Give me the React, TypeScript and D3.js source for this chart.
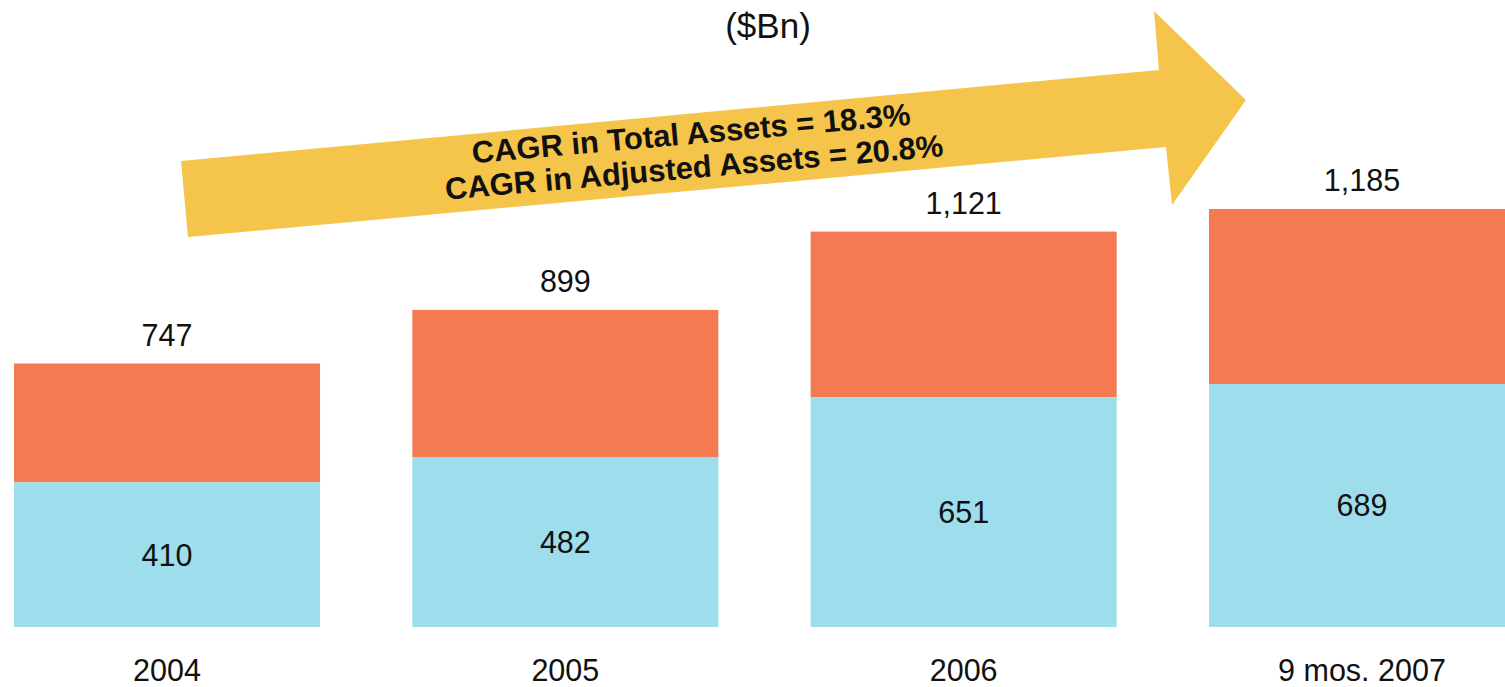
import { useEffect, useRef } from "react";
import * as d3 from "d3";

const categories = ["2004", "2005", "2006", "9 mos. 2007"];
const adjustedAssets = [410, 482, 651, 689];
const totalAssets = [747, 899, 1121, 1185];
const unitLabel = "($Bn)";
const cagrLines = ["CAGR in Total Assets = 18.3%", "CAGR in Adjusted Assets = 20.8%"];

const W = 1505;
const H = 687;

export default function App() {
    const ref = useRef<SVGSVGElement | null>(null);

    useEffect(() => {
        const svg = d3.select(ref.current);
        svg.selectAll("*").remove();

        const font = "'Liberation Sans', Arial, sans-serif";

        const x = d3.scaleBand<string>()
            .domain(categories)
            .range([14, 1515])
            .paddingInner(0.2317)
            .paddingOuter(0);

        const y = d3.scaleLinear()
            .domain([0, 1185])
            .range([627, 209]);

        // big yellow arrow sits behind the bars
        const arrow: [number, number][] = [
            [181, 161], [1159, 70], [1154, 11], [1246, 100],
            [1172, 205], [1166, 147], [188, 237]
        ];
        svg.append("path")
            .attr("d", d3.line()(arrow) + "Z")
            .attr("fill", "#F5C44B");

        const rows = categories.map((c, i) => ({
            cat: c, adj: adjustedAssets[i], total: totalAssets[i]
        }));

        const g = svg.append("g");

        // orange = total minus adjusted
        g.selectAll("rect.top")
            .data(rows)
            .enter()
            .append("rect")
            .attr("x", d => x(d.cat)!)
            .attr("width", x.bandwidth())
            .attr("y", d => y(d.total))
            .attr("height", d => y(d.adj) - y(d.total))
            .attr("fill", "#F37A53");

        // blue = adjusted assets
        g.selectAll("rect.bottom")
            .data(rows)
            .enter()
            .append("rect")
            .attr("x", d => x(d.cat)!)
            .attr("width", x.bandwidth())
            .attr("y", d => y(d.adj))
            .attr("height", d => y(0) - y(d.adj))
            .attr("fill", "#9EDDEB");

        const fmt = d3.format(",");

        g.selectAll("text.total")
            .data(rows)
            .enter()
            .append("text")
            .attr("x", d => x(d.cat)! + x.bandwidth() / 2)
            .attr("y", d => y(d.total) - 18)
            .attr("text-anchor", "middle")
            .style("font-family", font)
            .style("font-size", "30.5px")
            .style("fill", "#111")
            .text(d => fmt(d.total));

        g.selectAll("text.adj")
            .data(rows)
            .enter()
            .append("text")
            .attr("x", d => x(d.cat)! + x.bandwidth() / 2)
            .attr("y", d => (y(d.adj) + y(0)) / 2)
            .attr("dy", "0.36em")
            .attr("text-anchor", "middle")
            .style("font-family", font)
            .style("font-size", "30.5px")
            .style("fill", "#111")
            .text(d => fmt(d.adj));

        g.selectAll("text.cat")
            .data(rows)
            .enter()
            .append("text")
            .attr("x", d => x(d.cat)! + x.bandwidth() / 2)
            .attr("y", 681)
            .attr("text-anchor", "middle")
            .style("font-family", font)
            .style("font-size", "30.5px")
            .style("fill", "#111")
            .text(d => d.cat);

        svg.append("text")
            .attr("x", 768)
            .attr("y", 38)
            .attr("text-anchor", "middle")
            .style("font-family", font)
            .style("font-size", "35px")
            .style("fill", "#111")
            .text(unitLabel);

        const cagr = svg.append("g")
            .attr("transform", "translate(692,144) rotate(-5)");
        cagr.selectAll("text")
            .data(cagrLines)
            .enter()
            .append("text")
            .attr("x", 0)
            .attr("y", (d, i) => i * 34)
            .attr("text-anchor", "middle")
            .style("font-family", font)
            .style("font-size", "31px")
            .style("font-weight", "bold")
            .style("fill", "#111")
            .text(d => d);
    }, []);

    return (
        <div style={{ position: "absolute", left: 0, top: 0, width: W, height: H, overflow: "hidden", background: "#fff" }}>
            <svg ref={ref} width={W} height={H} style={{ display: "block" }} />
        </div>
    );
}
